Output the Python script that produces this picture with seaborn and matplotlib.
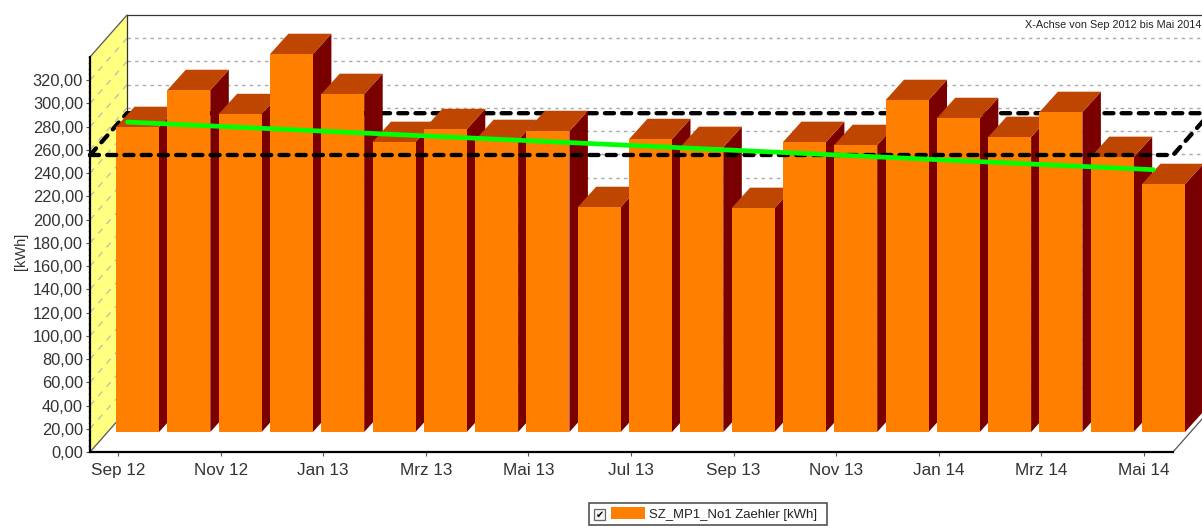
import matplotlib
matplotlib.use('Agg')
import matplotlib.pyplot as plt
import matplotlib.transforms as mtransforms
from matplotlib.patches import Rectangle
import pandas as pd
import seaborn as sns

months = ['Sep 12', 'Okt 12', 'Nov 12', 'Dez 12', 'Jan 13', 'Feb 13', 'Mrz 13',
          'Apr 13', 'Mai 13', 'Jun 13', 'Jul 13', 'Aug 13', 'Sep 13', 'Okt 13',
          'Nov 13', 'Dez 13', 'Jan 14', 'Feb 14', 'Mrz 14', 'Apr 14', 'Mai 14']
kwh = [262.4, 294.2, 273.5, 325.2, 290.8, 249.5, 260.6, 251.2, 258.9, 193.5, 252.0,
       245.2, 192.7, 249.5, 246.9, 285.6, 270.1, 253.8, 275.3, 236.6, 213.3]
trend_x = [0, 20]
trend_y = [284, 243]
mean_kwh = 255.5
y_ticks = list(range(0, 321, 20))
y_labels = [f'{v},00' for v in y_ticks]
series_name = 'SZ_MP1_No1 Zaehler [kWh]'

W, H = 1202, 528
px_x = 51.3     # pixels per month
px_y = 1.1625   # pixels per kWh

# fake 3d offsets, converted to data units
wall_x, wall_y = 37 / px_x, 42 / px_y
bar_x, bar_y = 19.5 / px_x, 20 / px_y
dep_x, dep_y = 18.5 / px_x, 20.5 / px_y
bar_w = 43 / px_x

sns.set_theme(style='white')
plt.rcParams['font.family'] = ['Liberation Sans', 'DejaVu Sans']

fig = plt.figure(figsize=(W / 100, H / 100), dpi=100)
ax = fig.add_axes([90 / W, (H - 452) / H, 1083 / W, 395 / H])

df = pd.DataFrame({'month': months, 'kwh': kwh})
sns.barplot(data=df, x='month', y='kwh', color='#FF8000', saturation=1, width=bar_w,
            label=series_name, ax=ax, zorder=4, linewidth=0)

x0 = -28 / px_x
x1 = x0 + 1083 / px_x
y1 = 340
ax.set_xlim(x0, x1)
ax.set_ylim(0, y1)

# move the bars onto their own plane
bar_trans = mtransforms.Affine2D().translate(bar_x, bar_y) + ax.transData
for p in ax.patches:
    p.set_transform(bar_trans)
    p.set_clip_on(False)

# side and top faces, left to right so later bars cover earlier ones
for i, v in enumerate(kwh):
    left, right = i - bar_w / 2, i + bar_w / 2
    ax.fill([right, right + dep_x, right + dep_x, right], [0, dep_y, v + dep_y, v],
            color='#7A0000', lw=0, transform=bar_trans, clip_on=False, zorder=3)
    ax.fill([left, left + dep_x, right + dep_x, right], [v, v + dep_y, v + dep_y, v],
            color='#BF4600', lw=0, transform=bar_trans, clip_on=False, zorder=3)

# walls
ax.fill([x0, x0 + wall_x, x0 + wall_x, x0], [0, wall_y, y1 + wall_y, y1],
        color='#FFFF80', lw=0, clip_on=False, zorder=1)
ax.plot([x0 + wall_x, x0 + wall_x, x1 + wall_x], [wall_y, y1 + wall_y, y1 + wall_y],
        color='#333333', lw=0.9, clip_on=False, zorder=2)
ax.plot([x0, x0 + wall_x], [y1, y1 + wall_y], color='#555555', lw=0.9, clip_on=False, zorder=2)
ax.plot([x0, x0 + wall_x], [0, wall_y], color='#555555', lw=0.9, clip_on=False, zorder=2)
ax.plot([x1, x1 + wall_x], [0, wall_y], color='#555555', lw=0.9, clip_on=False, zorder=2)

for v in y_ticks[1:]:
    ax.plot([x0, x0 + wall_x], [v, v + wall_y], color='#BBBBB0', lw=0.9,
            ls=(0, (5, 5)), clip_on=False, zorder=1.5)
    ax.plot([x0 + wall_x, x1 + wall_x], [v + wall_y, v + wall_y], color='#AAAAAA', lw=1,
            ls=(0, (2.5, 3)), clip_on=False, zorder=1.5)

# mean plane: back part behind the bars, front edge on top
dash = (0, (2.1, 1.9))
ax.plot([x0, x0 + wall_x, x1 + wall_x, x1],
        [mean_kwh, mean_kwh + wall_y, mean_kwh + wall_y, mean_kwh],
        color='black', lw=3.1, ls=dash, dash_capstyle='round', clip_on=False, zorder=2)
ax.plot([x0, x1], [mean_kwh, mean_kwh], color='black', lw=3.1, ls=dash,
        dash_capstyle='round', clip_on=False, zorder=5)

# trend
trend_trans = mtransforms.Affine2D().translate(9.5 / px_x, 0) + ax.transData
sns.lineplot(x=trend_x, y=trend_y, color='#00FF00', lw=3.4, ax=ax, transform=trend_trans,
             clip_on=False, zorder=6)

# axes
ax.set_xlim(x0, x1)
ax.set_ylim(0, y1)
ax.set_xticks(range(0, 21, 2))
ax.set_xticklabels(months[::2], fontsize=12.3, color='#333333')
ax.set_yticks(y_ticks)
ax.set_yticklabels(y_labels, fontsize=11.8, color='#333333')
ax.set_yticks(range(0, 341, 5), minor=True)
ax.tick_params(axis='x', which='major', length=3, width=0.8, color='#555555',
               bottom=True, pad=5)
ax.tick_params(axis='y', which='major', length=3, width=0.8, color='#555555',
               left=True, pad=2)
ax.tick_params(axis='y', which='minor', length=1.5, width=0.7, color='#999999', left=True)
ax.set_xlabel('')
ax.set_ylabel('')
ax.patch.set_visible(False)
ax.spines['top'].set_visible(False)
ax.spines['right'].set_visible(False)
for side in ['left', 'bottom']:
    ax.spines[side].set_color('black')
    ax.spines[side].set_linewidth(1.6)
    ax.spines[side].set_zorder(7)

fig.text(21 / W, 1 - 251 / H, '[kWh]', rotation=90, ha='center', va='center',
         fontsize=10.5, color='#333333')
fig.text(1201 / W, 1 - 25 / H, 'X-Achse von Sep 2012 bis Mai 2014', ha='right', va='center',
         fontsize=7.8, color='#222222')

# legend: box and checkbox drawn by hand
ax.add_patch(Rectangle((589 / W, 1 - 525 / H), 238 / W, 22 / H, transform=fig.transFigure,
                       fc='white', ec='#444444', lw=1.1, clip_on=False, zorder=8))
ax.add_patch(Rectangle((594 / W, 1 - 520 / H), 11 / W, 11 / H, transform=fig.transFigure,
                       fc='#F4F4F0', ec='#666666', lw=0.9, clip_on=False, zorder=9))
fig.text(599.5 / W, 1 - 514.5 / H, '\u2714', family='DejaVu Sans', ha='center', va='center',
         fontsize=7, color='black')
leg = ax.legend(loc='center left', bbox_to_anchor=(605 / W, 1 - 514 / H),
                bbox_transform=fig.transFigure, frameon=False, fontsize=9.45,
                handlelength=2.6, handleheight=1.05, handletextpad=0.3, borderpad=0,
                borderaxespad=0.45, labelcolor='#222222')
leg.set_zorder(10)

fig.savefig('out.png', dpi=100)
